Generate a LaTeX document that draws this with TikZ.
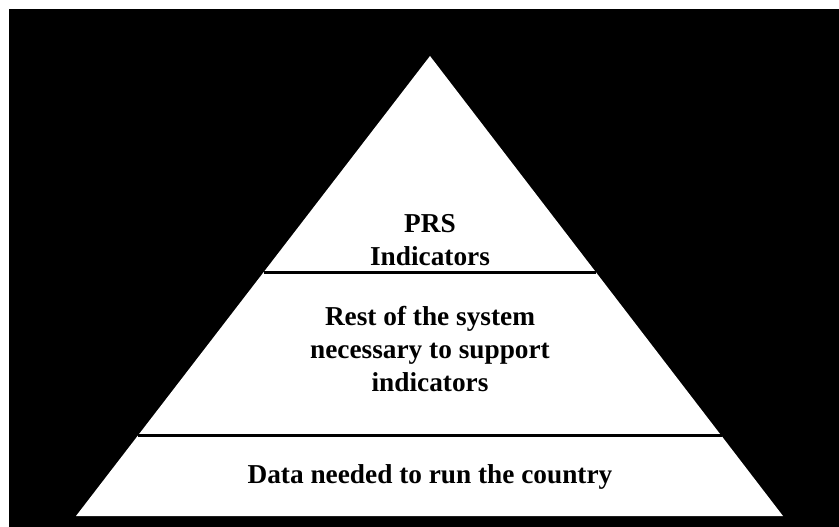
\documentclass[tikz,border=0pt]{standalone}
\usepackage{fontspec}
\setmainfont{Liberation Serif}
\begin{document}
\begin{tikzpicture}[x=1pt,y=-1pt]
    \tikzset{tiertext/.style={font=\fontsize{27.3}{33}\selectfont\bfseries, align=center, inner sep=0pt}}
    \useasboundingbox (0,0) rectangle (839,527);
    \fill[white] (0,0) rectangle (839,527);
    \fill[black] (9,9) rectangle (839,527);

    % Pyramid:
    \coordinate (apex) at (430,56);
    \coordinate (baseleft) at (76,516);
    \coordinate (baseright) at (783,516);
    \fill[white] (apex) -- (baseleft) -- (baseright) -- cycle;

    % Dividing lines between the tiers:
    \draw [line width=3pt] (264,272) -- (596,272);
    \draw [line width=3pt] (138,435) -- (722,435);

    \node[tiertext] (top) at (430,240) {PRS\\Indicators};
    \node[tiertext] (middle) at (430,349) {Rest of the system\\necessary to support\\indicators};
    \node[tiertext] (bottom) at (430,477) {Data needed to run the country};
\end{tikzpicture}
\end{document}
